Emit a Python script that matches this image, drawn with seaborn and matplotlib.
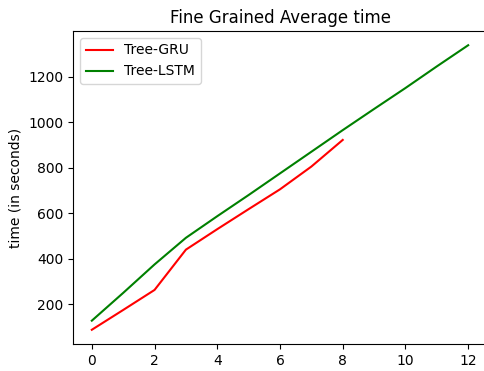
import pandas as pd
import numpy as np
import matplotlib
matplotlib.use("Agg")
import matplotlib.pyplot as plt
import seaborn as sns

# per-epoch average time
gru_epochs = [0, 1, 2, 3, 4, 5, 6, 7, 8]
gru_time = [88, 175, 263, 440, 530, 618, 705, 805, 922]

lstm_epochs = [0, 1, 2, 3, 4, 5, 6, 7, 8, 9, 10, 11, 12]
lstm_time = [128, 250, 375, 492, 587, 680, 775, 870, 965, 1058, 1150, 1245, 1338]

model_names = ["Tree-GRU", "Tree-LSTM"]
model_colors = ["red", "green"]

df_gru = pd.DataFrame({"epoch": gru_epochs, "time": gru_time, "model": model_names[0]})
df_lstm = pd.DataFrame({"epoch": lstm_epochs, "time": lstm_time, "model": model_names[1]})
df_all = pd.concat([df_gru, df_lstm], ignore_index=True)

plt.rcParams["font.family"] = ["DejaVu Sans Condensed", "DejaVu Sans"]
plt.rcParams["font.size"] = 10

fig = plt.figure(figsize=(4.84, 3.71), dpi=100)
ax = fig.add_axes([73 / 484, 27 / 371, 414 / 484, 313 / 371])

sns.lineplot(data=df_all, x="epoch", y="time", hue="model",
             palette=dict(zip(model_names, model_colors)),
             errorbar=None, linewidth=1.5, ax=ax)

ax.set_title("Fine Grained Average time", fontsize=12)
ax.set_xlabel("")
ax.set_ylabel("time (in seconds)")
ax.set_xticks([0, 2, 4, 6, 8, 10, 12])
ax.set_yticks([200, 400, 600, 800, 1000, 1200])
ax.legend(loc="upper left")

fig.savefig("out.png", dpi=100)
